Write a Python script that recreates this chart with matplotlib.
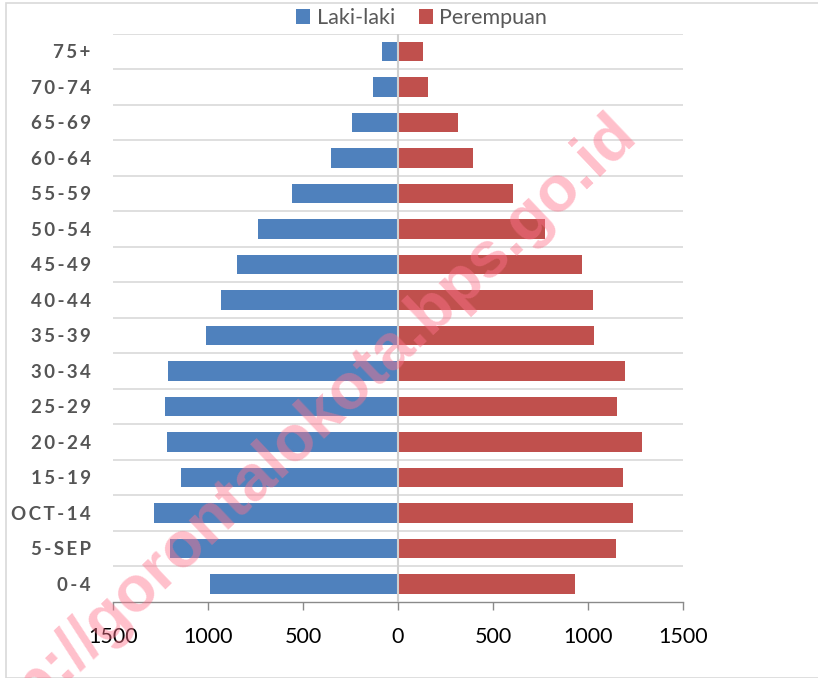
import matplotlib
matplotlib.use("Agg")
import matplotlib.pyplot as plt
from matplotlib.patches import Patch, Rectangle
import numpy as np

# ---- data (bottom to top) ----
age_groups = ["0-4", "5-SEP", "OCT-14", "15-19", "20-24", "25-29", "30-34", "35-39",
              "40-44", "45-49", "50-54", "55-59", "60-64", "65-69", "70-74", "75+"]
laki_laki = [989, 1198, 1284, 1140, 1215, 1226, 1213, 1011,
             929, 850, 736, 558, 355, 244, 132, 84]
perempuan = [929, 1147, 1237, 1182, 1286, 1152, 1196, 1033,
             1024, 969, 775, 603, 394, 315, 160, 130]
x_ticks = [-1500, -1000, -500, 0, 500, 1000, 1500]
series_names = ["Laki-laki", "Perempuan"]

W, H = 818, 678
fig = plt.figure(figsize=(W / 100, H / 100), dpi=100)

# chart-area border
fig.patches.append(Rectangle((6 / W, 0), 1.0, 1 - 3 / H, transform=fig.transFigure,
                             fill=False, edgecolor="#d9d9d9", linewidth=1.2))

ax = fig.add_axes([113 / W, 1 - 601.7 / H, (683 - 113) / W, (601.7 - 33.7) / H])

blue = "#4f81bd"
red = "#c0504d"
y = np.arange(len(age_groups))
ax.barh(y, -np.array(laki_laki), height=0.55, color=blue, zorder=2)
ax.barh(y, perempuan, height=0.55, color=red, zorder=2)

ax.set_xlim(-1500, 1500)
ax.set_ylim(-0.5, len(age_groups) - 0.5)

# horizontal gridlines between categories
for b in np.arange(0.5, len(age_groups), 1.0):
    ax.axhline(b, color="#d9d9d9", linewidth=1.2, zorder=1)
ax.axvline(0, color="#cfcfcf", linewidth=1.5, zorder=3)

for s in ["top", "right", "left"]:
    ax.spines[s].set_visible(False)
ax.spines["bottom"].set_color("#8a8a8a")
ax.spines["bottom"].set_linewidth(1.0)

ax.set_xticks(x_ticks)
ax.set_xticklabels([str(abs(v)) for v in x_ticks], fontsize=15.5,
                   family=["Lato", "DejaVu Sans"], color="#000000")
ax.tick_params(axis="x", direction="out", length=6, width=1.0, color="#8a8a8a", pad=12)

ax.set_yticks(y)
ax.set_yticklabels(["\u2009".join(list(g)) for g in age_groups], fontsize=13.5,
                   family=["Lato", "DejaVu Sans"], fontweight="bold", color="#555555")
ax.tick_params(axis="y", length=0, pad=16)

handles = [Patch(facecolor=blue), Patch(facecolor=red)]
leg = fig.legend(handles, series_names, loc="center", bbox_to_anchor=(421.5 / W, 1 - 18 / H),
                 ncol=2, frameon=False, prop={"family": ["Lato", "DejaVu Sans"], "size": 15.5},
                 handlelength=0.65, handleheight=0.65, handletextpad=0.3, columnspacing=1.1,
                 borderaxespad=0, borderpad=0)
for t in leg.get_texts():
    t.set_color("#595959")

# watermark
fig.text(306 / W, 1 - 452 / H, "http://gorontalokota.bps.go.id", rotation=43.5,
         rotation_mode="anchor", ha="center", va="baseline", fontsize=46.5,
         fontweight="bold", family=["Liberation Sans", "DejaVu Sans"],
         color=(1.0, 0.45, 0.55), alpha=0.45, zorder=10)

fig.savefig("out.png", dpi=100)
